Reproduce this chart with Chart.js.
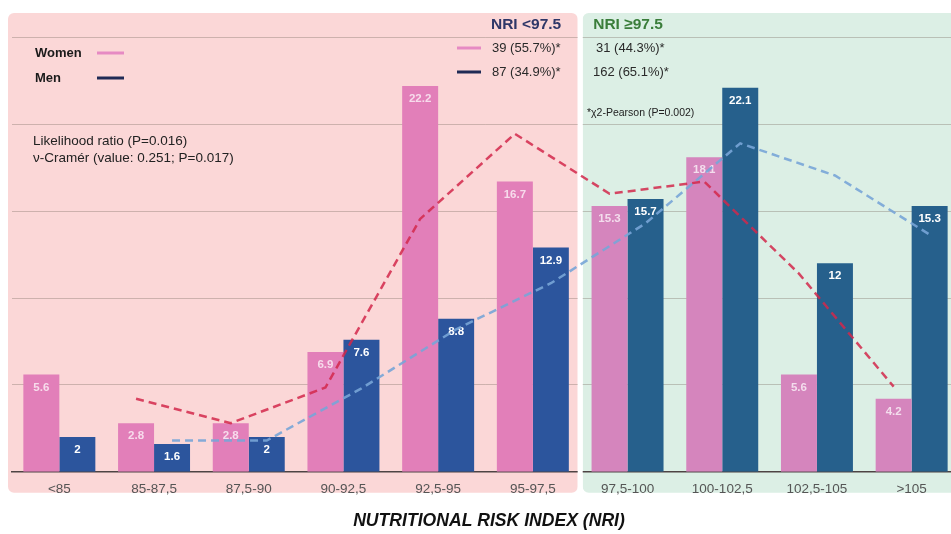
<!DOCTYPE html>
<html>
<head>
<meta charset="utf-8">
<script src="https://cdn.jsdelivr.net/npm/chart.js@4.4.1/dist/chart.umd.min.js"></script>
<style>
  html, body { margin: 0; padding: 0; background: #ffffff; }
  #wrap { width: 951px; height: 534px; overflow: hidden; position: relative; }
  canvas { display: block; }
</style>
</head>
<body>
<div id="wrap"><canvas id="c" width="960" height="534"></canvas></div>
<script>
// ---- data ----
const categories = ['<85', '85-87,5', '87,5-90', '90-92,5', '92,5-95', '95-97,5', '97,5-100', '100-102,5', '102,5-105', '>105'];
const women = [5.6, 2.8, 2.8, 6.9, 22.2, 16.7, 15.3, 18.1, 5.6, 4.2];
const men = [2, 1.6, 2, 7.6, 8.8, 12.9, 15.7, 22.1, 12, 15.3];
const womenTrend = [null, 4.2, 2.8, 4.85, 14.55, 19.45, 16, 16.7, 11.4, 4.9];
const menTrend = [null, 1.8, 1.8, 4.8, 8.2, 10.85, 14.3, 18.9, 17.05, 13.65];
const gridValues = [5, 10, 15, 20, 25];
const lowGroupSize = 6; // categories in NRI <97.5
const groupTitles = ['NRI <97.5', 'NRI \u226597.5'];
const lowCounts = ['39 (55.7%)*', '87 (34.9%)*'];
const highCounts = ['31 (44.3%)*', '162 (65.1%)*'];
const seriesNames = ['Women', 'Men'];
const statsText = ['Likelihood ratio (P=0.016)', '\u03bd-Cram\u00e9r (value: 0.251; P=0.017)'];
const pearsonText = '*\u03c72-Pearson (P=0.002)';
const xTitle = 'NUTRITIONAL RISK INDEX (NRI)';

const FONT = '"Liberation Sans", Arial, Helvetica, sans-serif';
const C = {
  pinkBg: '#fbd7d7', greenBg: '#dcefe5',
  womenL: '#e27fb9', womenR: '#d585bd',
  menL: '#2c559d', menR: '#26608c',
  womenLine: 'rgba(210,40,75,0.85)', menLine: 'rgba(120,165,215,0.9)',
  legWomen: '#e68ac3', legMen: '#1f2a55'
};

function splitX(chart) {
  const x = chart.scales.x;
  const step = x.getPixelForValue(1) - x.getPixelForValue(0);
  return x.getPixelForValue(lowGroupSize - 1) + step / 2;
}

const panelsPlugin = {
  id: 'panels',
  beforeDraw(chart) {
    const ctx = chart.ctx, a = chart.chartArea;
    const split = splitX(chart);
    ctx.save();
    ctx.fillStyle = '#ffffff';
    ctx.fillRect(0, 0, chart.width, chart.height);
    const top = a.top, bottom = a.bottom + 21;
    const rr = (l, r, col) => {
      ctx.beginPath();
      ctx.roundRect(l, top, r - l, bottom - top, 6);
      ctx.fillStyle = col;
      ctx.fill();
    };
    rr(a.left - 4, split - 2.5, C.pinkBg);
    rr(split + 2.5, a.right + 20, C.greenBg);
    ctx.restore();
  },
  beforeDatasetsDraw(chart) {
    const ctx = chart.ctx, a = chart.chartArea;
    const split = splitX(chart);
    ctx.save();
    ctx.fillStyle = '#ffffff';
    ctx.fillRect(split - 2.5, a.top, 5, a.bottom - a.top + 21);
    ctx.restore();
  },
  afterDatasetsUpdate(chart) {
    // place trend points at the centre of the matching bar
    const wb = chart.getDatasetMeta(0), mb = chart.getDatasetMeta(1);
    const wl = chart.getDatasetMeta(2), ml = chart.getDatasetMeta(3);
    wl.data.forEach((p, i) => { p.x = wb.data[i].x; });
    ml.data.forEach((p, i) => { p.x = mb.data[i].x; });
  },
  afterDatasetDraw(chart, args) {
    const ds = chart.data.datasets[args.index];
    if (ds.type !== 'bar') return;
    const ctx = chart.ctx;
    ctx.save();
    ctx.font = 'bold 11.5px ' + FONT;
    ctx.textAlign = 'center';
    ctx.textBaseline = 'middle';
    ctx.fillStyle = args.index === 0 ? 'rgba(255,255,255,0.72)' : '#ffffff';
    args.meta.data.forEach((el, i) => {
      ctx.fillText(String(ds.data[i]), el.x, el.y + 13);
    });
    ctx.restore();
  },
  afterDraw(chart) {
    const ctx = chart.ctx;
    const split = splitX(chart);
    ctx.save();
    ctx.textBaseline = 'middle';
    // group headers
    ctx.font = 'bold 15.5px ' + FONT;
    ctx.textAlign = 'right';
    ctx.fillStyle = '#2e3768';
    ctx.fillText(groupTitles[0], split - 19, 25);
    ctx.textAlign = 'left';
    ctx.fillStyle = '#3a7d3a';
    ctx.fillText(groupTitles[1], split + 13, 25);
    // legend at left
    ctx.font = 'bold 13px ' + FONT;
    ctx.fillStyle = '#1a1a1a';
    ctx.fillText(seriesNames[0], 35, 53);
    ctx.fillText(seriesNames[1], 35, 78);
    ctx.lineWidth = 3;
    ctx.strokeStyle = C.legWomen;
    ctx.beginPath(); ctx.moveTo(97, 53); ctx.lineTo(124, 53); ctx.stroke();
    ctx.strokeStyle = C.legMen;
    ctx.beginPath(); ctx.moveTo(97, 78); ctx.lineTo(124, 78); ctx.stroke();
    // counts
    ctx.strokeStyle = C.legWomen;
    ctx.beginPath(); ctx.moveTo(457, 48); ctx.lineTo(481, 48); ctx.stroke();
    ctx.strokeStyle = C.legMen;
    ctx.beginPath(); ctx.moveTo(457, 72); ctx.lineTo(481, 72); ctx.stroke();
    ctx.font = '13px ' + FONT;
    ctx.fillStyle = '#2a2a2a';
    ctx.fillText(lowCounts[0], 492, 48);
    ctx.fillText(lowCounts[1], 492, 72);
    ctx.fillText(highCounts[0], 596, 48);
    ctx.fillText(highCounts[1], 593, 72);
    // statistics
    ctx.font = '13.5px ' + FONT;
    ctx.fillStyle = '#222';
    ctx.fillText(statsText[0], 33, 141);
    ctx.fillText(statsText[1], 33, 158);
    ctx.font = '10.5px ' + FONT;
    ctx.fillText(pearsonText, 587, 113);
    // x title
    ctx.font = 'italic bold 17.6px ' + FONT;
    ctx.textAlign = 'center';
    ctx.fillStyle = '#111';
    ctx.fillText(xTitle, 489, 521);
    ctx.restore();
  }
};

new Chart(document.getElementById('c'), {
  data: {
    labels: categories,
    datasets: [
      { type: 'bar', label: 'Women', data: women, order: 1,
        backgroundColor: c => c.dataIndex < lowGroupSize ? C.womenL : C.womenR,
        categoryPercentage: 0.76, barPercentage: 1.0, borderWidth: 0 },
      { type: 'bar', label: 'Men', data: men, order: 1,
        backgroundColor: c => c.dataIndex < lowGroupSize ? C.menL : C.menR,
        categoryPercentage: 0.76, barPercentage: 1.0, borderWidth: 0 },
      { type: 'line', label: 'Women trend', data: womenTrend, order: 0,
        borderColor: C.womenLine, borderWidth: 2.5, borderDash: [8, 5],
        pointRadius: 0, tension: 0, fill: false, spanGaps: false },
      { type: 'line', label: 'Men trend', data: menTrend, order: 0,
        borderColor: C.menLine, borderWidth: 2.5, borderDash: [8, 5],
        pointRadius: 0, tension: 0, fill: false, spanGaps: false }
    ]
  },
  options: {
    responsive: false,
    animation: false,
    events: [],
    layout: { padding: { left: 12, right: 1, top: 13, bottom: 28 } },
    plugins: { legend: { display: false }, tooltip: { enabled: false } },
    scales: {
      x: {
        grid: { display: false, drawTicks: false },
        border: { display: true, color: '#4e4444', width: 1.5 },
        ticks: { color: '#555', font: { size: 13.5, family: FONT }, padding: 9, maxRotation: 0, autoSkip: false }
      },
      y: {
        min: 0, max: 26.4,
        afterBuildTicks: s => { s.ticks = gridValues.map(v => ({ value: v })); },
        ticks: { display: false },
        grid: { color: 'rgba(120,105,95,0.35)', lineWidth: 1, drawTicks: false },
        border: { display: false }
      }
    }
  },
  plugins: [panelsPlugin]
});
</script>
</body>
</html>
